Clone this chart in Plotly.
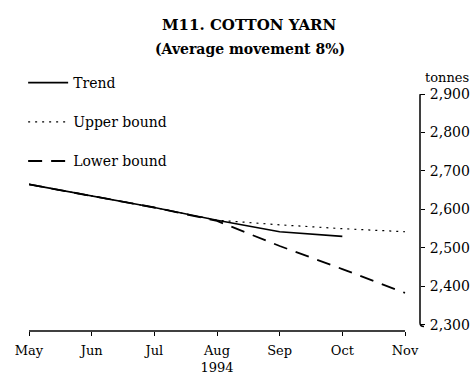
import plotly.graph_objects as go

# Months on the horizontal axis (index 0 = May)
months = ["May", "Jun", "Jul", "Aug<br>1994", "Sep", "Oct", "Nov"]
x_idx = list(range(len(months)))

# Cotton yarn, tonnes
trend = [2665, 2635, 2605, 2572, 2542, 2530]
upper = [2665, 2635, 2605, 2572, 2560, 2550, 2542]
lower = [2665, 2635, 2605, 2570, 2505, 2445, 2383]

y_ticks = [2300, 2400, 2500, 2600, 2700, 2800, 2900]
y_labels = ["2,300", "2,400", "2,500", "2,600", "2,700", "2,800", "2,900"]

FONT = "DejaVu Serif"
INK = "#000000"

fig = go.Figure()
fig.add_trace(go.Scatter(x=x_idx[:len(trend)], y=trend, mode="lines", name="Trend",
                         legendgroup="a",
                         line=dict(color=INK, width=1.6)))
fig.add_trace(go.Scatter(x=x_idx, y=upper, mode="lines", name="Upper bound",
                         legendgroup="b",
                         line=dict(color=INK, width=1.2, dash="2px,5px")))
fig.add_trace(go.Scatter(x=x_idx, y=lower, mode="lines", name="Lower bound",
                         legendgroup="c",
                         line=dict(color=INK, width=1.8, dash="14px,9px")))

L, R, T, B = 29, 56, 94, 45
W, H = 476, 376
plot_w = W - L - R
plot_h = H - T - B
px = 1.0 / plot_w  # one pixel in paper units (horizontal)

x_max = 6 + 15 / (plot_w / 6.24)

shapes = [
    # horizontal axis line, May to Nov
    dict(type="line", xref="x", yref="paper", x0=0, x1=6, y0=0, y1=0,
         line=dict(color=INK, width=1.5)),
    # right-hand value axis, 2,300 to 2,900, with small hooks at both ends
    dict(type="path", xref="paper", yref="y",
         path=(f"M {1 + 4*px},2907 Q {1},2905 {1},2895 L {1},2305 "
               f"Q {1},2296 {1 + 4*px},2296"),
         line=dict(color=INK, width=1.5)),
]

annotations = [
    dict(text="<b>M11. COTTON YARN</b>", xref="paper", yref="paper",
         x=(250 - L) / plot_w, y=1 + (T - 25) / plot_h, xanchor="center",
         yanchor="middle", showarrow=False,
         font=dict(family=FONT, size=15, color=INK)),
    dict(text="<b>(Average movement 8%)</b>", xref="paper", yref="paper",
         x=(250 - L) / plot_w, y=1 + (T - 49) / plot_h, xanchor="center",
         yanchor="middle", showarrow=False,
         font=dict(family=FONT, size=14, color=INK)),
    dict(text="tonnes", xref="paper", yref="paper",
         x=(447 - L) / plot_w, y=1 + (T - 77) / plot_h, xanchor="center",
         yanchor="middle", showarrow=False,
         font=dict(family=FONT, size=13, color=INK)),
]

fig.update_layout(
    width=W, height=H,
    margin=dict(l=L, r=R, t=T, b=B, autoexpand=False),
    paper_bgcolor="white", plot_bgcolor="white",
    font=dict(family=FONT, size=14, color=INK),
    showlegend=True,
    legend=dict(x=-0.015, y=1 + (T - 67) / plot_h, xanchor="left", yanchor="top",
                traceorder="grouped", tracegroupgap=18, itemwidth=40,
                bgcolor="rgba(0,0,0,0)", font=dict(family=FONT, size=14, color=INK)),
    xaxis=dict(range=[0, x_max], tickvals=x_idx, ticktext=months,
               showgrid=False, zeroline=False, showline=False, automargin=False,
               ticks="outside", ticklen=4, tickcolor=INK, tickwidth=1.2,
               ticklabelstandoff=3,
               tickfont=dict(family=FONT, size=13, color=INK)),
    yaxis=dict(range=[2284, 2900], side="right", tickvals=y_ticks, ticktext=y_labels,
               showgrid=False, zeroline=False, showline=False, automargin=False,
               ticks="outside", ticklen=4, tickcolor=INK, tickwidth=1.2,
               ticklabelstandoff=2,
               tickfont=dict(family=FONT, size=14, color=INK)),
    shapes=shapes,
    annotations=annotations,
)

fig.write_html("out.html")
